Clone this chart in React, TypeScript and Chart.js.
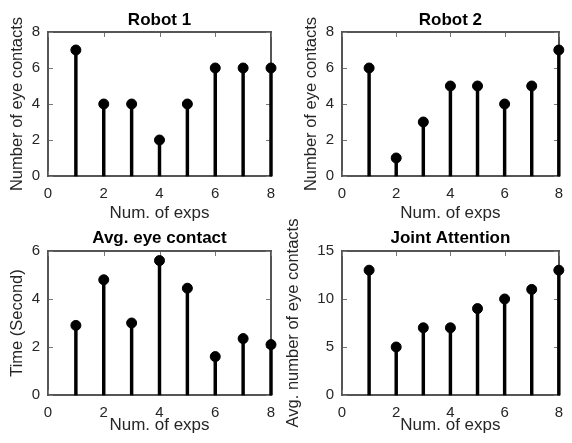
import React, { useEffect, useRef } from "react";
import { Chart, registerables } from "chart.js";

Chart.register(...registerables);

// ---------- data ----------
const expNums = [1, 2, 3, 4, 5, 6, 7, 8];
const robot1Contacts = [7, 4, 4, 2, 4, 6, 6, 6];
const robot2Contacts = [6, 1, 3, 5, 5, 4, 5, 7];
const avgEyeContactTime = [2.9, 4.8, 3.0, 5.6, 4.45, 1.6, 2.35, 2.1];
const jointAttentionContacts = [13, 5, 7, 7, 9, 10, 11, 13];

const panelTitles = ["Robot 1", "Robot 2", "Avg. eye contact", "Joint Attention"];
const yAxisLabels = [
  "Number of eye contacts",
  "Number of eye contacts",
  "Time (Second)",
  "Avg. number of eye contacts",
];
const xAxisLabel = "Num. of exps";
const xMin = 0;
const xMax = 8;
const xStep = 2;
const yMaxes = [8, 8, 6, 15];
const ySteps = [2, 2, 2, 5];
const seriesList = [robot1Contacts, robot2Contacts, avgEyeContactTime, jointAttentionContacts];

// ---------- layout ----------
const W = 572;
const H = 443;
const panelBoxes = [
  { l: 48, r: 271, t: 32, b: 176, titleBase: 25, xTitleMid: 213, yTitleGap: 31 },
  { l: 342, r: 565, t: 32, b: 176, titleBase: 25, xTitleMid: 213, yTitleGap: 31 },
  { l: 48, r: 271, t: 251, b: 395, titleBase: 243, xTitleMid: 425, yTitleGap: 31 },
  { l: 342, r: 565, t: 251, b: 395, titleBase: 243, xTitleMid: 425, yTitleGap: 49 },
];

const FONT = '"Liberation Sans", Arial, Helvetica, sans-serif';
const TEXT = "#262626";
const FRAME = "#555555";
const TICKMARK = "#777777";
const TICK_SIZE = 15;
const XT_SIZE = 17;
const YT_SIZE = 16.5;
const FRAME_W = 2;

function drawFrame(chart: any, yMax: number, yStep: number) {
  const { ctx, chartArea: a, scales } = chart;
  ctx.save();
  ctx.globalAlpha = 1;
  ctx.globalCompositeOperation = "source-over";
  const L = Math.round(a.left) - 1;
  const R = Math.round(a.right) - 1;
  const T = Math.round(a.top) - 1;
  const B = Math.round(a.bottom) - 1;
  ctx.fillStyle = FRAME;
  ctx.fillRect(L, T, R - L + FRAME_W, FRAME_W);
  ctx.fillRect(L, B, R - L + FRAME_W, FRAME_W);
  ctx.fillRect(L, T, FRAME_W, B - T + FRAME_W);
  ctx.fillRect(R, T, FRAME_W, B - T + FRAME_W);
  ctx.fillStyle = TICKMARK;
  const tl = 4;
  for (let v = xMin; v <= xMax; v += xStep) {
    const px = Math.round(scales.x.getPixelForValue(v));
    ctx.fillRect(px, B - tl, 1, tl);
    ctx.fillRect(px, T + FRAME_W, 1, tl);
  }
  for (let v = 0; v <= yMax; v += yStep) {
    const py = Math.round(scales.y.getPixelForValue(v));
    ctx.fillRect(L + FRAME_W, py, tl, 1);
    ctx.fillRect(R - tl, py, tl, 1);
  }
  ctx.restore();
}

function makePanelPlugin(i: number) {
  return {
    id: "panelDecor" + i,
    beforeDatasetsDraw(chart: any) {
      drawFrame(chart, yMaxes[i], ySteps[i]);
    },
    afterDraw(chart: any) {
      const { ctx, chartArea: a } = chart;
      const box = panelBoxes[i];
      ctx.save();
      ctx.fillStyle = "#000";
      ctx.font = `bold 17px ${FONT}`;
      ctx.textAlign = "center";
      ctx.textBaseline = "alphabetic";
      ctx.fillText(panelTitles[i], (a.left + a.right) / 2, box.titleBase);
      ctx.restore();
    },
  };
}

function makeConfig(i: number) {
  const box = panelBoxes[i];
  const values = seriesList[i];
  const points = expNums.map((x, k) => ({ x, y: values[k] }));
  const yW = box.yTitleGap + 17;
  const xH = box.xTitleMid - box.b + (XT_SIZE * 1.2) / 2;
  return {
    type: "bar",
    data: {
      datasets: [
        {
          type: "line",
          data: points,
          showLine: false,
          pointRadius: 5,
          pointBorderWidth: 1,
          pointBackgroundColor: "#000",
          pointBorderColor: "#000",
          borderColor: "#000",
          clip: false,
          order: 0,
        },
        {
          type: "bar",
          data: points,
          backgroundColor: "#000",
          borderWidth: 0,
          barThickness: 2.8,
          clip: false,
          order: 1,
        },
      ],
    },
    options: {
      animation: false,
      responsive: false,
      devicePixelRatio: 1,
      events: [],
      layout: {
        padding: {
          left: box.l - yW,
          right: W - box.r,
          top: box.t,
          bottom: H - box.b - xH,
        },
      },
      plugins: {
        legend: { display: false },
        tooltip: { enabled: false },
        title: { display: false },
      },
      scales: {
        x: {
          type: "linear",
          min: xMin,
          max: xMax,
          offset: false,
          grid: { display: false, drawTicks: false, offset: false },
          border: { display: false },
          ticks: {
            stepSize: xStep,
            padding: 9,
            color: TEXT,
            font: { family: FONT, size: TICK_SIZE },
            maxRotation: 0,
          },
          title: {
            display: true,
            text: xAxisLabel,
            color: TEXT,
            font: { family: FONT, size: XT_SIZE },
            padding: { top: 0, bottom: 0 },
          },
          afterFit(scale: any) {
            scale.height = xH;
          },
        },
        y: {
          type: "linear",
          min: 0,
          max: yMaxes[i],
          grid: { display: false, drawTicks: false },
          border: { display: false },
          ticks: {
            stepSize: ySteps[i],
            padding: 8,
            color: TEXT,
            font: { family: FONT, size: TICK_SIZE },
          },
          title: {
            display: true,
            text: yAxisLabels[i],
            color: TEXT,
            font: { family: FONT, size: YT_SIZE },
            padding: { top: 7.1, bottom: 0 },
          },
          afterFit(scale: any) {
            scale.width = yW;
          },
        },
      },
    },
    plugins: [makePanelPlugin(i)],
  };
}

function Panel({ index }: { index: number }) {
  const ref = useRef<HTMLCanvasElement | null>(null);
  useEffect(() => {
    if (!ref.current) return;
    const chart = new Chart(ref.current, makeConfig(index) as any);
    return () => chart.destroy();
  }, [index]);
  return (
    <canvas
      ref={ref}
      width={W}
      height={H}
      style={{ position: "absolute", left: 0, top: 0, width: W, height: H }}
    />
  );
}

export default function App() {
  return (
    <div
      style={{
        position: "fixed",
        left: 0,
        top: 0,
        width: W,
        height: H,
        background: "#fff",
        overflow: "hidden",
      }}
    >
      {[0, 1, 2, 3].map((i) => (
        <Panel key={i} index={i} />
      ))}
    </div>
  );
}
